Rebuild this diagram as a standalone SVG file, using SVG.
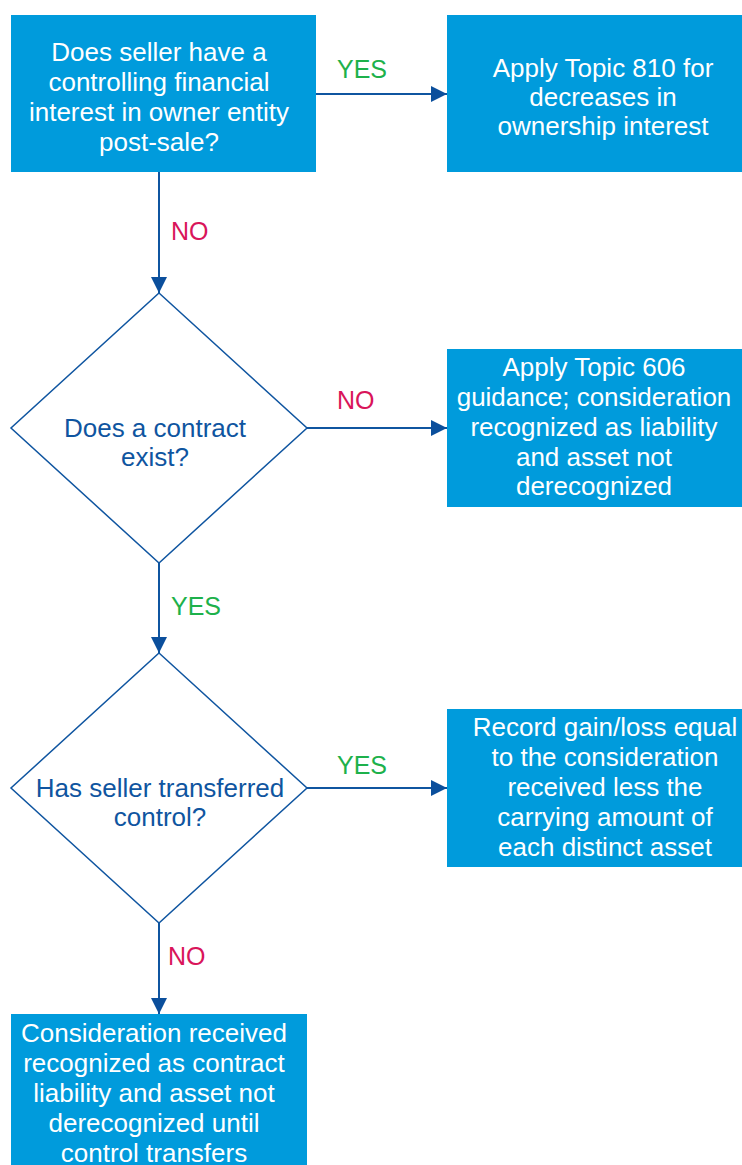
<svg xmlns="http://www.w3.org/2000/svg" width="742" height="1165" viewBox="0 0 742 1165">
  <style>
    .box { fill: #009bdc; }
    .dia { fill: #ffffff; stroke: #0f55a0; stroke-width: 1.5; }
    .wt { font-family: "Liberation Sans", Arial, sans-serif; font-size: 26px; fill: #ffffff; text-anchor: middle; }
    .bt { font-family: "Liberation Sans", Arial, sans-serif; font-size: 26px; fill: #0f55a0; text-anchor: middle; }
    .yes { font-family: "Liberation Sans", Arial, sans-serif; font-size: 25px; fill: #1db14b; }
    .no { font-family: "Liberation Sans", Arial, sans-serif; font-size: 25px; fill: #d9155a; }
    .edge { stroke: #0f55a0; stroke-width: 2; fill: none; marker-end: url(#arrow); }
  </style>
  <defs>
    <marker id="arrow" markerWidth="16" markerHeight="16" refX="16" refY="8" orient="auto" markerUnits="userSpaceOnUse">
      <path d="M0,0 L16,8 L0,16 Z" fill="#0b4f9c"/>
    </marker>
  </defs>

  <g id="connectors">
    <line class="edge" x1="316" y1="94" x2="447" y2="94"/>
    <line class="edge" x1="159" y1="172" x2="159" y2="293"/>
    <line class="edge" x1="307" y1="428" x2="447" y2="428"/>
    <line class="edge" x1="159" y1="563" x2="159" y2="653"/>
    <line class="edge" x1="307" y1="788" x2="447" y2="788"/>
    <line class="edge" x1="159" y1="923" x2="159" y2="1014"/>
    <text class="yes" x="337" y="78">YES</text>
    <text class="no" x="171" y="240">NO</text>
    <text class="no" x="337" y="409">NO</text>
    <text class="yes" x="171" y="615">YES</text>
    <text class="yes" x="337" y="774">YES</text>
    <text class="no" x="168" y="965">NO</text>
  </g>

  <g id="q-controlling-interest">
    <rect class="box" x="11" y="15" width="305" height="157"/>
    <text class="wt" x="159" y="61">Does seller have a</text>
    <text class="wt" x="159" y="91">controlling financial</text>
    <text class="wt" x="159" y="121">interest in owner entity</text>
    <text class="wt" x="159" y="151">post-sale?</text>
  </g>

  <g id="topic-810">
    <rect class="box" x="447" y="15" width="295" height="157"/>
    <text class="wt" x="603" y="77">Apply Topic 810 for</text>
    <text class="wt" x="603" y="106">decreases in</text>
    <text class="wt" x="603" y="135">ownership interest</text>
  </g>

  <g id="q-contract-exists">
    <polygon class="dia" points="159,293 307,428 159,563 11,428"/>
    <text class="bt" x="155" y="437">Does a contract</text>
    <text class="bt" x="155" y="466">exist?</text>
  </g>

  <g id="topic-606">
    <rect class="box" x="447" y="349" width="295" height="158"/>
    <text class="wt" x="594" y="376">Apply Topic 606</text>
    <text class="wt" x="594" y="406">guidance; consideration</text>
    <text class="wt" x="594" y="436">recognized as liability</text>
    <text class="wt" x="594" y="466">and asset not</text>
    <text class="wt" x="594" y="495">derecognized</text>
  </g>

  <g id="q-transferred-control">
    <polygon class="dia" points="159,653 307,788 159,923 11,788"/>
    <text class="bt" x="160" y="797">Has seller transferred</text>
    <text class="bt" x="160" y="826">control?</text>
  </g>

  <g id="gain-loss">
    <rect class="box" x="447" y="709" width="295" height="158"/>
    <text class="wt" x="605" y="736">Record gain/loss equal</text>
    <text class="wt" x="605" y="766">to the consideration</text>
    <text class="wt" x="605" y="796">received less the</text>
    <text class="wt" x="605" y="826">carrying amount of</text>
    <text class="wt" x="605" y="856">each distinct asset</text>
  </g>

  <g id="contract-liability">
    <rect class="box" x="11" y="1014" width="296" height="151"/>
    <text class="wt" x="154" y="1042">Consideration received</text>
    <text class="wt" x="154" y="1072">recognized as contract</text>
    <text class="wt" x="154" y="1102">liability and asset not</text>
    <text class="wt" x="154" y="1132">derecognized until</text>
    <text class="wt" x="154" y="1162">control transfers</text>
  </g>
</svg>
